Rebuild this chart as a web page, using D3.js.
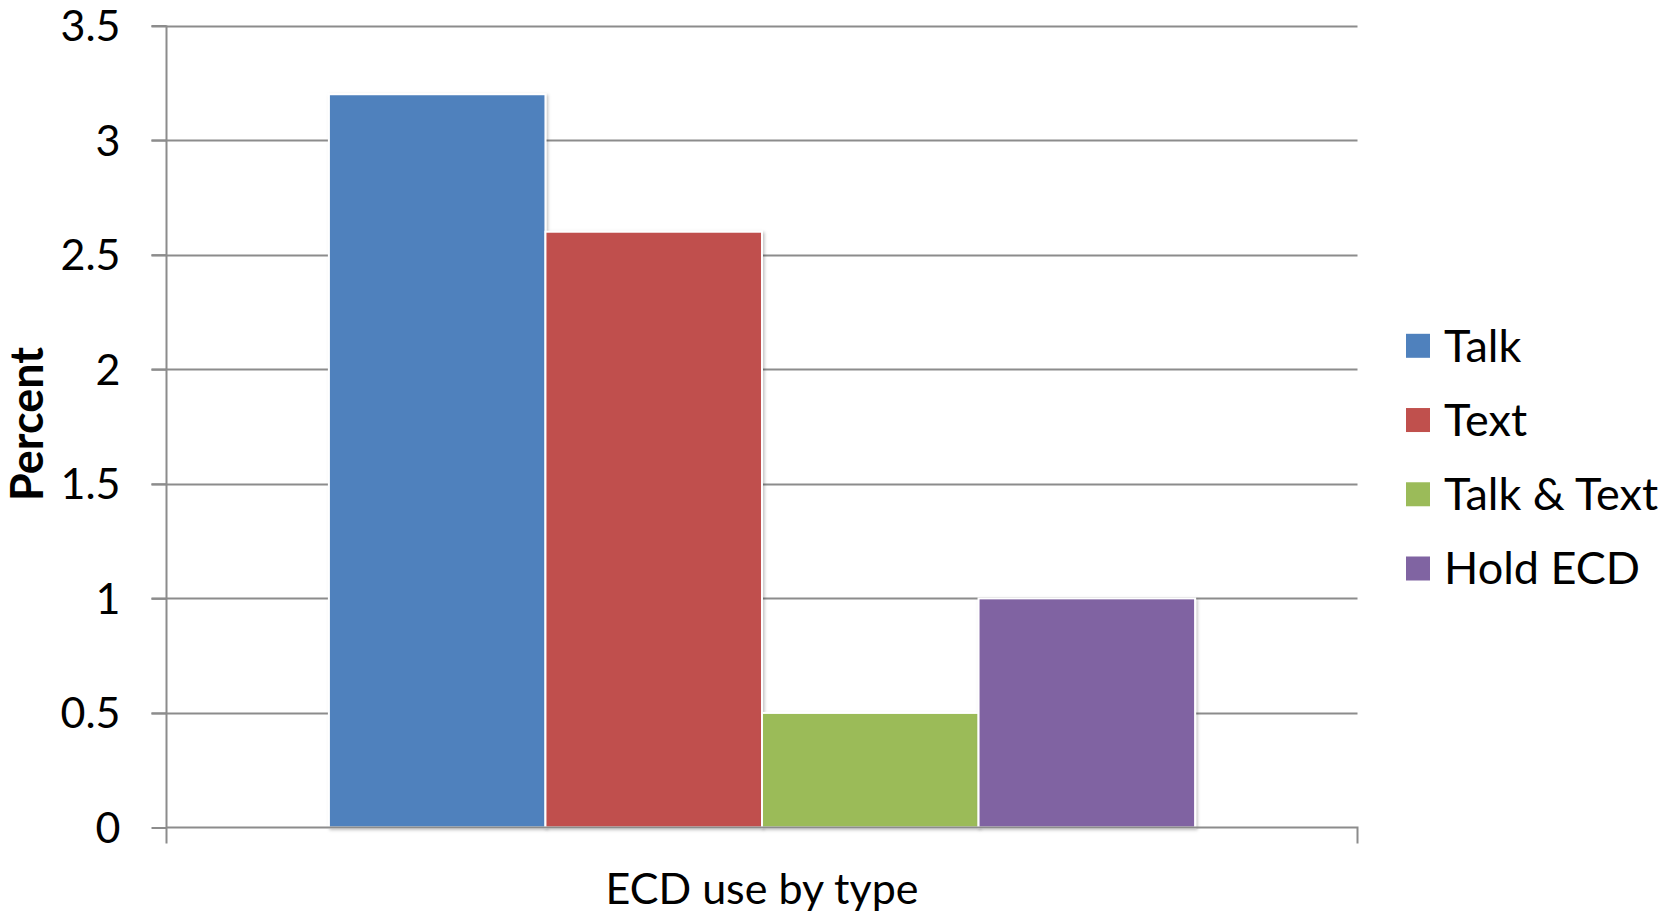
<!DOCTYPE html>
<html>
<head>
<meta charset="utf-8">
<script src="https://cdn.jsdelivr.net/npm/d3@7"></script>
<style>
  html, body { margin: 0; padding: 0; background: #fff; }
  svg { display: block; }
  text { font-family: Lato, "Open Sans", sans-serif; fill: #000; }
</style>
</head>
<body>
<svg id="chart" width="1663" height="915"></svg>
<script>
const categories = ["ECD use by type"];
const seriesNames = ["Talk", "Text", "Talk & Text", "Hold ECD"];
const seriesValues = [3.2, 2.6, 0.5, 1.0];
const seriesColors = ["#4F81BD", "#C0504D", "#9BBB59", "#8064A2"];
const yTicks = [0, 0.5, 1, 1.5, 2, 2.5, 3, 3.5];
const yTickLabels = ["0", "0.5", "1", "1.5", "2", "2.5", "3", "3.5"];
const yTitle = "Percent";

const svg = d3.select("#chart");
const plot = { left: 166.5, right: 1357.5, top: 25.5, bottom: 827.5 };

const y = d3.scaleLinear().domain([0, 3.5]).range([plot.bottom, plot.top]);
const x = d3.scaleBand().domain(categories).range([plot.left, plot.right]).paddingInner(0).paddingOuter(0);
// Excel gap width 150%: bars occupy 4/(4+1.5) of the band
const groupW = x.bandwidth() * 4 / 5.5;
const xs = d3.scaleBand().domain(seriesNames).range([0, groupW]);

const defs = svg.append("defs");
const f = defs.append("filter").attr("id", "shadow").attr("x", "-10%").attr("y", "-10%").attr("width", "130%").attr("height", "130%");
f.append("feDropShadow").attr("dx", 1.5).attr("dy", 1.5).attr("stdDeviation", 1.5).attr("flood-color", "#000").attr("flood-opacity", 0.25);

// gridlines
const grid = svg.append("g");
grid.selectAll("line").data(yTicks.filter(d => d > 0)).join("line")
  .attr("x1", plot.left - 15).attr("x2", plot.right)
  .attr("y1", d => Math.round(y(d)) + 0.5).attr("y2", d => Math.round(y(d)) + 0.5)
  .attr("stroke", "#8C8C8C").attr("stroke-width", 2);

// y axis
const yAxis = d3.axisLeft(y).tickValues(yTicks).tickSize(15).tickPadding(31)
  .tickFormat((d, i) => yTickLabels[i]);
const gy = svg.append("g").attr("transform", `translate(${plot.left},0)`).call(yAxis);
gy.select(".domain").attr("stroke", "#8C8C8C").attr("stroke-width", 2)
  .attr("d", `M0,${plot.top}V${plot.bottom + 16}`);
gy.selectAll(".tick line").attr("stroke", "#8C8C8C").attr("stroke-width", 2);
gy.selectAll(".tick text").attr("font-size", 43).attr("font-family", "Lato, sans-serif").attr("fill", "#000").attr("dy", "0.35em");

// bars
const gx0 = x(categories[0]) + (x.bandwidth() - groupW) / 2;
svg.append("g").selectAll("rect").data(seriesValues).join("rect")
  .attr("x", (d, i) => gx0 + xs(seriesNames[i]))
  .attr("y", d => y(d))
  .attr("width", xs.bandwidth())
  .attr("height", d => y(0) - y(d))
  .attr("fill", (d, i) => seriesColors[i])
  .attr("stroke", "#fff").attr("stroke-width", 2)
  .attr("filter", "url(#shadow)");

// x axis
const xAxis = d3.axisBottom(x).tickSize(0).tickFormat(() => "");
const gxA = svg.append("g").attr("transform", `translate(0,${plot.bottom})`).call(xAxis);
gxA.select(".domain").attr("stroke", "#8C8C8C").attr("stroke-width", 2)
  .attr("d", `M${plot.left},0H${plot.right}V16`);

// x category label
svg.append("text").attr("x", (plot.left + plot.right) / 2).attr("y", 889)
  .attr("text-anchor", "middle").attr("dy", "0.35em").attr("font-size", 43)
  .text(categories[0]);

// y title
svg.append("text").attr("transform", "translate(27,424) rotate(-90)")
  .attr("text-anchor", "middle").attr("dy", "0.35em")
  .attr("font-size", 45).attr("font-weight", "bold").text(yTitle);

// legend
const legY = d3.scalePoint().domain(seriesNames).range([345.8, 568.5]);
const leg = svg.append("g");
const li = leg.selectAll("g").data(seriesNames).join("g")
  .attr("transform", d => `translate(1406,${legY(d)})`);
li.append("rect").attr("x", 0).attr("y", -12).attr("width", 24).attr("height", 24)
  .attr("fill", (d, i) => seriesColors[i]);
li.append("text").attr("x", 38).attr("dy", "0.35em").attr("font-size", 45).text(d => d);
</script>
</body>
</html>
